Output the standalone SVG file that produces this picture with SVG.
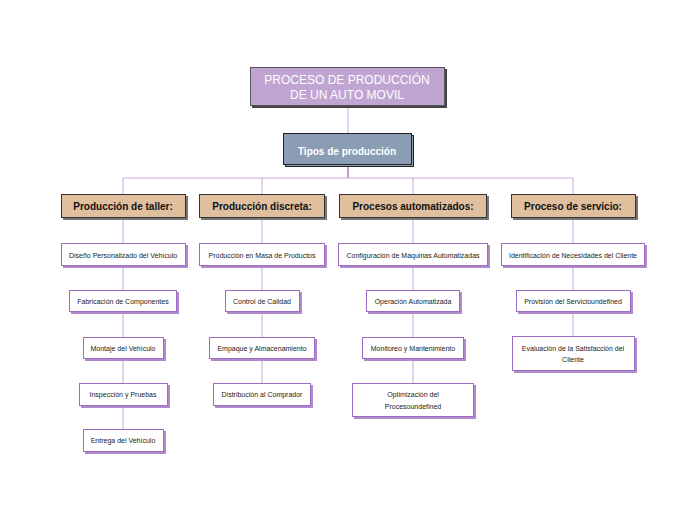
<svg xmlns="http://www.w3.org/2000/svg" width="697" height="520" viewBox="0 0 697 520">
<style>
.cn{fill:none;stroke:#c8a8dc;stroke-width:1}
.cnd{fill:none;stroke:#7a3f9e;stroke-width:1}
.rs{fill:#444}
.r{fill:#c0a4d2;stroke:#555;stroke-width:1}
.ts{fill:#8a9db4;stroke:#222;stroke-width:1}
.t{fill:#8a9db4;stroke:#222;stroke-width:1}
.cs{fill:#777}
.c{fill:#e0bf9f;stroke:#333;stroke-width:1}
.ls{fill:#b08acc}
.l{fill:#fff;stroke:#9b6cc0;stroke-width:1}
.tr{font-family:"Liberation Sans",Arial,sans-serif;font-size:12px;fill:#fff;text-anchor:middle}
.tt{font-family:"Liberation Sans",Arial,sans-serif;font-size:10px;font-weight:bold;fill:#fff;text-anchor:middle}
.tc{font-family:"Liberation Sans",Arial,sans-serif;font-size:10px;font-weight:bold;fill:#111;text-anchor:middle}
.tl{font-family:"Liberation Sans",Arial,sans-serif;font-size:7px;fill:#222;text-anchor:middle}
</style>
<rect width="697" height="520" fill="#fff"/>
<g id="connectors">
<path class="cn" d="M348 106V133"/>
<path class="cnd" d="M348 165V178"/>
<path class="cn" d="M123 194V178H573V194M262 178V194M413 178V194"/>
<path class="cn" d="M123 219V243M123 267V290M123 312V337M123 359V383M123 406V429"/>
<path class="cn" d="M262 219V243M262 267V290M262 312V337M262 359V383"/>
<path class="cn" d="M413 219V243M413 267V290M413 312V337M413 359V383"/>
<path class="cn" d="M573 219V243M573 267V290M573 312V336"/>
</g>
<g id="root">
<rect class="rs" x="252" y="69" width="195" height="39"/>
<rect class="r" x="250.5" y="67.5" width="194" height="38"/>
<text class="tr" x="347" y="84">PROCESO DE PRODUCCIÓN</text>
<text class="tr" x="347" y="99">DE UN AUTO MOVIL</text>
</g>
<g id="tipos">
<rect class="ts" x="285.5" y="135.5" width="128" height="31"/>
<rect class="t" x="283.5" y="133.5" width="128" height="31"/>
<text class="tt" x="347" y="155">Tipos de producción</text>
</g>
<g id="cat1">
<rect class="cs" x="63" y="196" width="125" height="24"/>
<rect class="c" x="61.5" y="194.5" width="124" height="23"/>
<text class="tc" x="123" y="210">Producción de taller:</text>
</g>
<g id="cat2">
<rect class="cs" x="201" y="196" width="126" height="24"/>
<rect class="c" x="199.5" y="194.5" width="125" height="23"/>
<text class="tc" x="262" y="210">Producción discreta:</text>
</g>
<g id="cat3">
<rect class="cs" x="341" y="196" width="148" height="24"/>
<rect class="c" x="339.5" y="194.5" width="147" height="23"/>
<text class="tc" x="413" y="210">Procesos automatizados:</text>
</g>
<g id="cat4">
<rect class="cs" x="513" y="196" width="125" height="24"/>
<rect class="c" x="511.5" y="194.5" width="124" height="23"/>
<text class="tc" x="573" y="210">Proceso de servicio:</text>
</g>
<g id="n1a"><rect class="ls" x="63" y="245" width="125" height="23"/><rect class="l" x="61.5" y="243.5" width="124" height="22"/><text class="tl" x="123" y="257.5">Diseño Personalizado del Vehículo</text></g>
<g id="n1b"><rect class="ls" x="71" y="292" width="108" height="22"/><rect class="l" x="69.5" y="290.5" width="107" height="21"/><text class="tl" x="123" y="303.5">Fabricación de Componentes</text></g>
<g id="n1c"><rect class="ls" x="85" y="339" width="81" height="22"/><rect class="l" x="83.5" y="337.5" width="80" height="21"/><text class="tl" x="123" y="350.5">Montaje del Vehículo</text></g>
<g id="n1d"><rect class="ls" x="81" y="385" width="89" height="23"/><rect class="l" x="79.5" y="383.5" width="88" height="22"/><text class="tl" x="123" y="397">Inspección y Pruebas</text></g>
<g id="n1e"><rect class="ls" x="85" y="431" width="81" height="23"/><rect class="l" x="83.5" y="429.5" width="80" height="22"/><text class="tl" x="123" y="443">Entrega del Vehículo</text></g>
<g id="n2a"><rect class="ls" x="201" y="245" width="126" height="23"/><rect class="l" x="199.5" y="243.5" width="125" height="22"/><text class="tl" x="262" y="257.5">Producción en Masa de Productos</text></g>
<g id="n2b"><rect class="ls" x="227" y="292" width="75" height="22"/><rect class="l" x="225.5" y="290.5" width="74" height="21"/><text class="tl" x="262" y="303.5">Control de Calidad</text></g>
<g id="n2c"><rect class="ls" x="211" y="339" width="106" height="22"/><rect class="l" x="209.5" y="337.5" width="105" height="21"/><text class="tl" x="262" y="350.5">Empaque y Almacenamiento</text></g>
<g id="n2d"><rect class="ls" x="215" y="385" width="98" height="23"/><rect class="l" x="213.5" y="383.5" width="97" height="22"/><text class="tl" x="262" y="397">Distribución al Comprador</text></g>
<g id="n3a"><rect class="ls" x="340" y="245" width="150" height="23"/><rect class="l" x="338.5" y="243.5" width="149" height="22"/><text class="tl" x="413" y="257.5">Configuración de Máquinas Automatizadas</text></g>
<g id="n3b"><rect class="ls" x="368" y="292" width="94" height="22"/><rect class="l" x="366.5" y="290.5" width="93" height="21"/><text class="tl" x="413" y="303.5">Operación Automatizada</text></g>
<g id="n3c"><rect class="ls" x="364" y="339" width="102" height="22"/><rect class="l" x="362.5" y="337.5" width="101" height="21"/><text class="tl" x="413" y="350.5">Monitoreo y Mantenimiento</text></g>
<g id="n3d"><rect class="ls" x="354" y="385" width="122" height="34"/><rect class="l" x="352.5" y="383.5" width="121" height="33"/><text class="tl" x="413" y="396.5">Optimización del</text><text class="tl" x="413" y="408.5">Procesoundefined</text></g>
<g id="n4a"><rect class="ls" x="503" y="245" width="144" height="23"/><rect class="l" x="501.5" y="243.5" width="143" height="22"/><text class="tl" x="573" y="257.5">Identificación de Necesidades del Cliente</text></g>
<g id="n4b"><rect class="ls" x="518" y="292" width="115" height="22"/><rect class="l" x="516.5" y="290.5" width="114" height="21"/><text class="tl" x="573" y="303.5">Provisión del Servicioundefined</text></g>
<g id="n4c"><rect class="ls" x="514" y="338" width="123" height="35"/><rect class="l" x="512.5" y="336.5" width="122" height="34"/><text class="tl" x="573" y="351">Evaluación de la Satisfacción del</text><text class="tl" x="573" y="362">Cliente</text></g>
</svg>
